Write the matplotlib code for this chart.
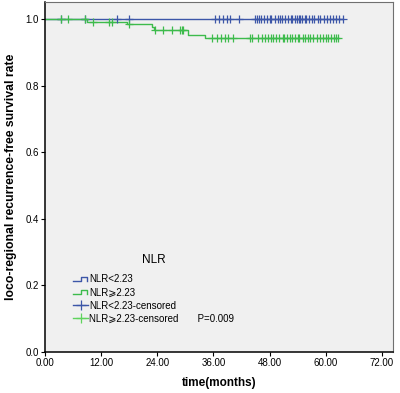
import numpy as np
import matplotlib
matplotlib.use('Agg')
import matplotlib.pyplot as plt
from matplotlib.lines import Line2D
from matplotlib.legend_handler import HandlerBase

plt.rcParams['font.family'] = ['Liberation Sans', 'DejaVu Sans']

# Kaplan-Meier steps (months, survival)
low_t = [0.0, 63.7]
low_s = [1.0, 1.0]
high_t = [0.0, 9.0, 17.5, 22.8, 23.2, 30.6, 34.2, 62.7]
high_s = [1.0, 0.992, 0.984, 0.977, 0.966, 0.953, 0.942, 0.942]

# censored times
low_cens = [3.4, 8.6, 15.4, 18.0, 36.4, 37.1, 38.1, 38.9, 39.6, 41.5,
            44.8, 45.3, 45.8, 46.2, 46.9, 47.5, 48.0, 48.4, 49.1, 49.8,
            50.3, 50.7, 51.4, 52.0, 52.5, 52.9, 53.4, 53.8, 54.2, 54.6,
            55.0, 55.5, 55.9, 56.4, 57.0, 57.6, 58.3, 58.8, 59.6, 60.2,
            60.9, 61.5, 62.2, 62.9, 63.7]
high_cens = [3.4, 5.0, 8.6, 10.3, 13.7, 14.3, 18.0, 23.5, 25.2, 27.1,
             28.9, 29.2, 29.6, 35.8, 36.7, 37.6, 38.5, 39.2, 40.1,
             43.8, 44.3, 45.5, 46.4, 47.0, 47.6, 48.3, 48.8, 49.3, 50.1,
             50.8, 51.2, 51.7, 52.3, 52.8, 53.5, 54.0, 54.4, 55.1, 55.6,
             56.2, 56.7, 57.3, 58.1, 58.7, 59.5, 60.0, 60.6, 61.2, 61.8,
             62.3, 62.7]

xticks = [0, 12, 24, 36, 48, 60, 72]
yticks = [0.0, 0.2, 0.4, 0.6, 0.8, 1.0]

blue = '#3c56a8'
green = '#3dbb4c'
green_light = '#5fd35c'


def surv_at(t, steps_t, steps_s):
    i = np.searchsorted(steps_t, t, side='right') - 1
    return np.array(steps_s)[i]


class StepHandler(HandlerBase):
    def create_artists(self, legend, orig_handle, xdescent, ydescent,
                       width, height, fontsize, trans):
        w, h = width, height
        xs = np.array([0, 0.5, 0.5, 0.95, 0.95]) * w - xdescent
        ys = np.array([0.25, 0.25, 0.8, 0.8, 0.25]) * h - ydescent
        ln = Line2D(xs, ys, color=orig_handle.get_color(), lw=1.0, transform=trans)
        return [ln]


fig = plt.figure(figsize=(4.0, 3.93), dpi=100)
ax = fig.add_axes([0.1125, 0.104, 0.87, 0.891])
ax.set_facecolor('#f0f0f0')

l1, = ax.step(low_t, low_s, where='post', color=blue, lw=1.0)
l2, = ax.step(high_t, high_s, where='post', color=green, lw=1.0)
ax.plot(low_cens, surv_at(low_cens, low_t, low_s), '+', color=blue,
        ms=6, mew=0.9)
ax.plot(high_cens, surv_at(high_cens, high_t, high_s), '+', color=green,
        ms=6, mew=0.9)

ax.set_xlim(0, 74.4)
ax.set_ylim(0, 1.051)
ax.set_xticks(xticks)
ax.set_xticklabels(['%.2f' % v for v in xticks], fontsize=7)
ax.set_yticks(yticks)
ax.set_yticklabels(['%.1f' % v for v in yticks], fontsize=7)
ax.tick_params(direction='out', length=3, width=0.8, pad=1.5)
ax.set_xlabel('time(months)', fontsize=8.5, fontweight='bold', labelpad=6)
ax.set_ylabel('loco-regional recurrence-free survival rate', fontsize=8.8,
              fontweight='bold', labelpad=6)

for s in ['left', 'bottom']:
    ax.spines[s].set_color('black')
    ax.spines[s].set_linewidth(1.1)
for s in ['top', 'right']:
    ax.spines[s].set_color('#707070')
    ax.spines[s].set_linewidth(0.8)

h3 = Line2D([], [], color=blue, marker='+', ms=7, mew=0.9, lw=1.0)
h4 = Line2D([], [], color=green_light, marker='+', ms=7, mew=0.9, lw=1.0)
leg = ax.legend([l1, l2, h3, h4],
                ['NLR<2.23', 'NLR\u2a7e2.23', 'NLR<2.23-censored',
                 'NLR\u2a7e2.23-censored       P=0.009'],
                handler_map={l1: StepHandler(), l2: StepHandler()},
                title='NLR', title_fontsize=8.5, fontsize=7,
                frameon=False, loc='upper left',
                bbox_to_anchor=(0.062, 0.30), handlelength=1.5,
                handletextpad=0.15, labelspacing=0.33, borderpad=0.2)
leg._legend_box.sep = 6

fig.savefig('out.png', dpi=100)
